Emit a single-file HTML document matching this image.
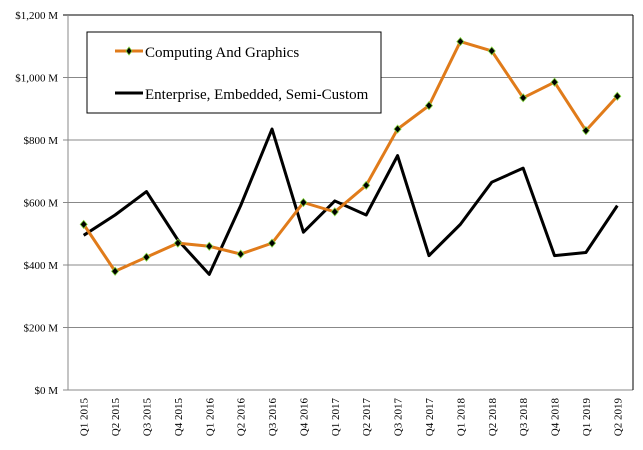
<!DOCTYPE html>
<html><head><meta charset="utf-8"><style>
body{margin:0;background:#fff}
svg{display:block;font-family:"Liberation Serif",serif}
</style></head><body>
<svg id="chart" width="643" height="450">
<g id="grid"></g><g id="axes"></g><g id="series"></g>
<g>
<rect x="87" y="32" width="294" height="81" fill="#fff" stroke="#000" stroke-width="1"/>
<line x1="115" y1="51" x2="143" y2="51" stroke="#e07b1a" stroke-width="3"/>
<path d="M129 47 L132 51 L129 55 L126 51 Z" fill="#000" stroke="#7fd13b" stroke-width="0.8"/>
<text x="145" y="57" font-size="15">Computing And Graphics</text>
<line x1="115" y1="93" x2="143" y2="93" stroke="#000" stroke-width="3"/>
<text x="145" y="99" font-size="15">Enterprise, Embedded, Semi-Custom</text>
</g>
</svg>
<script>
const categories=["Q1 2015","Q2 2015","Q3 2015","Q4 2015","Q1 2016","Q2 2016","Q3 2016","Q4 2016","Q1 2017","Q2 2017","Q3 2017","Q4 2017","Q1 2018","Q2 2018","Q3 2018","Q4 2018","Q1 2019","Q2 2019"];
const computingValues=[530,380,425,470,460,435,470,600,570,655,835,910,1115,1085,935,985,830,940];
const enterpriseValues=[495,560,635,480,370,590,835,505,605,560,750,430,530,665,710,430,440,590];
const yTicks=[0,200,400,600,800,1000,1200];
const yTickLabels=["$0 M","$200 M","$400 M","$600 M","$800 M","$1,000 M","$1,200 M"];
const L=68,R=633,T=15,B=390,NS="http://www.w3.org/2000/svg";
const y=v=>B-(v/1200)*(B-T);
const bw=(R-L)/categories.length;
const x=i=>L+bw*(i+0.5);
function mk(tag,attrs,parent){const e=document.createElementNS(NS,tag);for(const k in attrs)e.setAttribute(k,attrs[k]);parent.appendChild(e);return e;}
const grid=document.getElementById('grid'),axes=document.getElementById('axes'),series=document.getElementById('series');
yTicks.forEach((v,i)=>{
  const ln=mk('line',{x1:L-5,x2:R,y1:y(v),y2:y(v),stroke:v===1200?'#000':'#888','stroke-width':1},grid);
  
  
  const t=mk('text',{x:L-10,y:y(v)+4,'text-anchor':'end','font-size':11},axes);
  t.textContent=yTickLabels[i];
  
  
});
const ax=mk('line',{x1:L,x2:L,y1:T,y2:B,stroke:'#888'},axes);


const rb=mk('line',{x1:R,x2:R,y1:T,y2:B,stroke:'#000'},axes);


categories.forEach((c,i)=>{
  const t=mk('text',{x:0,y:0,'text-anchor':'end','font-size':11,transform:`translate(${x(i)+4},${B+8}) rotate(-90)`},axes);
  t.textContent=c;
  
  
});
const p2=mk('polyline',{points:enterpriseValues.map((v,i)=>x(i)+','+y(v)).join(' '),fill:'none',stroke:'#000','stroke-width':3,'stroke-linejoin':'round'},series);


const p1=mk('polyline',{points:computingValues.map((v,i)=>x(i)+','+y(v)).join(' '),fill:'none',stroke:'#e07b1a','stroke-width':3,'stroke-linejoin':'round'},series);


computingValues.forEach((v,i)=>{
  const cx=x(i),cy=y(v);
  const m=mk('path',{d:`M${cx} ${cy-4} L${cx+3.5} ${cy} L${cx} ${cy+4} L${cx-3.5} ${cy} Z`,fill:'#000',stroke:'#7fd13b','stroke-width':0.8},series);
  
  
});
</script>
</body></html>
